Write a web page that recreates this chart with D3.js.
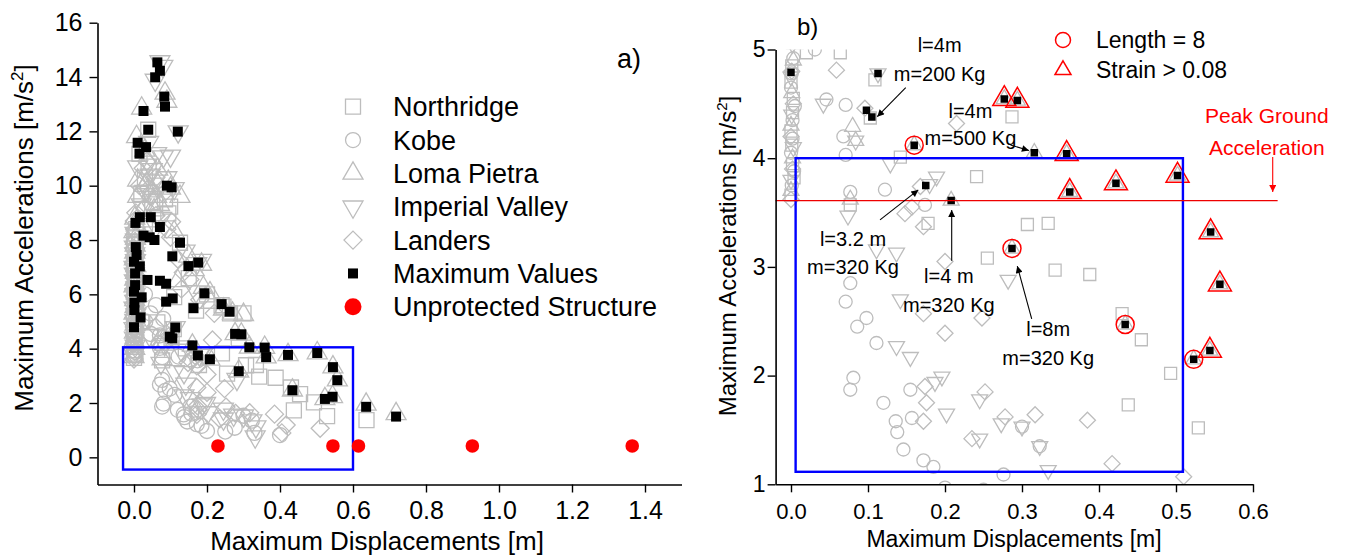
<!DOCTYPE html>
<html>
<head>
<meta charset="utf-8">
<script src="https://cdn.jsdelivr.net/npm/d3@7"></script>
<style>
  body { margin: 0; background: #fff; }
  svg { font-family: "Liberation Sans", Arial, sans-serif; }
</style>
</head>
<body>
<script>
// ---- data (x = max displacement [m], y = max acceleration [m/s2]) ----
const northridge = [
  [0.02,4.97],[0.064,4.97],[0.109,4.72],[0.103,4.37],[0.142,4.01],[0.241,3.83],[0.287,4.38],
  [0.178,3.40],[0.077,3.57],[0.307,3.39],[0.334,3.40],[0.255,3.08],[0.343,2.97],[0.388,2.93],
  [0.43,2.57],[0.455,2.33],[0.493,2.02],[0.438,1.73],[0.529,1.52],
  [0.0,3.66],[0.002,3.95],[0.0,4.25],[0.003,4.55],[0.001,4.85],[0.0,5.2],[0.004,5.6],[0.001,6.1],
  [0.003,6.6],[0.0,7.1],[0.005,7.6],[0.002,8.1],[0.004,3.82],[0.001,4.12],[0.002,4.42],[0.0,4.7],
  [0.006,5.4],[0.002,5.85],[0.005,6.35],[0.001,6.85],[0.004,7.35],[0.0,7.85],[0.006,8.4],
  [0.637,1.37],[0.039,12.06],[0.126,7.9],[0.094,8.98],[0.015,11.17],[0.099,9.23],[0.24,5.6],
  [0.263,5.3],[0.2,6.0],[0.15,6.6],[0.05,9.4],[0.03,10.3],[0.245,5.55],[0.11,5.9],
  [0.02,9.7],[0.06,10.0],[0.04,10.7],[0.085,9.5],[0.03,8.6],[0.17,5.4],[0.3,5.3]
];
const kobe = [
  [0.031,5.0],[0.046,4.54],[0.071,4.49],[0.068,4.2],[0.071,4.03],[0.122,3.71],[0.077,3.69],
  [0.174,3.57],[0.077,2.85],[0.071,2.68],[0.098,2.53],[0.086,2.45],[0.111,2.3],[0.081,1.98],
  [0.077,1.87],[0.155,1.87],[0.12,1.75],[0.157,1.61],[0.136,1.58],[0.138,1.48],[0.3,1.53],
  [0.146,1.32],[0.323,1.35],[0.172,1.22],[0.185,1.16],[0.276,1.09],
  [0.001,3.75],[0.0,4.05],[0.002,4.35],[0.0,4.65],[0.003,4.92],[0.001,5.4],[0.0,5.9],[0.002,6.4],[0.0,6.9],
  [0.004,3.88],[0.002,4.18],[0.005,4.48],[0.001,4.78],[0.004,5.65],[0.002,6.15],[0.005,6.65],
  [0.4,0.82],[0.25,0.95],[0.33,0.9],[0.2,0.97],[0.045,5.3],[0.08,5.1],[0.06,5.6],[0.03,6.0]
];
const lomaPietra = [
  [0.277,4.545],[0.294,4.53],[0.358,4.04],[0.362,3.69],[0.422,3.77],[0.502,3.84],[0.545,3.32],
  [0.557,2.84],[0.544,2.23],[0.316,4.05],[0.208,3.61],[0.08,4.29],[0.084,4.16],[0.077,3.62],
  [0.287,3.17],[0.434,2.47],[0.523,2.15],[0.16,4.12],
  [0.0,3.7],[0.002,4.0],[0.0,4.3],[0.001,4.6],[0.003,4.9],[0.0,5.3],[0.002,5.8],[0.0,6.3],
  [0.004,6.8],[0.001,7.3],[0.003,7.8],[0.0,8.3],[0.002,8.8],[0.005,5.05],[0.003,5.55],
  [0.006,6.05],[0.002,6.55],[0.005,7.05],[0.002,7.55],[0.004,8.05],[0.006,8.55],
  [0.636,1.95],[0.718,1.6],[0.085,13.4],[0.09,13.1],[0.021,12.85],[0.007,11.8],[0.094,10.15],
  [0.062,9.6],[0.126,9.6],[0.19,6.25],[0.208,6.05],[0.15,7.4],[0.185,7.1],[0.03,10.0],[0.01,9.6],
  [0.055,9.1],[0.11,8.3],[0.245,5.45],[0.165,6.9],[0.01,10.2],[0.035,10.1],[0.05,9.8],
  [0.02,9.0],[0.04,8.7],[0.07,9.3],[0.1,9.9],[0.065,10.6],[0.03,11.3],[0.21,5.7],[0.12,6.5],
  [0.3,5.25],[0.27,5.3]
];
const imperialValley = [
  [0.042,4.5],[0.113,4.78],[0.129,3.95],[0.189,3.83],[0.074,3.47],[0.111,3.16],[0.137,3.13],
  [0.282,2.88],[0.142,2.7],[0.137,2.27],[0.155,2.17],[0.196,1.99],[0.187,1.94],[0.245,1.78],
  [0.202,1.65],[0.273,1.56],[0.245,1.42],[0.323,1.35],[0.334,1.13],[0.3,1.53],[0.084,4.16],[0.18,3.76],
  [0.0,3.8],[0.003,4.1],[0.001,4.4],[0.0,4.75],[0.002,5.05],[0.0,5.5],[0.003,6.0],[0.001,6.5],
  [0.0,7.0],[0.002,7.5],[0.004,8.0],[0.005,5.25],[0.002,5.75],[0.005,6.25],[0.001,6.75],
  [0.004,7.25],[0.001,7.75],[0.003,8.25],
  [0.071,14.57],[0.079,14.4],[0.058,13.89],[0.121,11.99],[0.062,11.19],[0.08,11.07],[0.11,9.9],
  [0.172,7.14],[0.185,7.26],[0.045,10.4],[0.02,9.3],[0.332,0.76],[0.14,7.6],[0.06,8.5],
  [0.03,9.8],[0.05,10.6],[0.09,10.3],[0.01,10.7],[0.1,11.1],[0.04,11.6],[0.075,8.8],[0.17,6.1]
];
const landers = [
  [0.059,4.81],[0.096,4.46],[0.215,4.32],[0.168,3.74],[0.157,3.55],[0.148,3.49],[0.172,3.37],
  [0.2,3.05],[0.172,2.57],[0.248,2.53],[0.2,2.39],[0.174,1.9],[0.252,1.85],[0.176,1.75],
  [0.172,1.58],[0.278,1.62],[0.317,1.64],[0.235,1.42],[0.385,1.59],[0.417,1.19],[0.51,1.07],
  [0.0,3.62],[0.002,3.9],[0.0,4.2],[0.003,4.5],[0.001,4.8],[0.0,5.15],[0.002,5.7],[0.0,6.2],
  [0.003,6.7],[0.001,7.2],[0.0,7.7],[0.002,8.4],[0.004,5.45],[0.001,5.95],[0.004,6.45],
  [0.002,6.95],[0.005,7.45],[0.003,7.95],[0.001,8.7],
  [0.025,10.64],[0.103,8.67],[0.09,8.4],[0.135,6.8],[0.153,6.55],[0.405,0.9],[0.04,9.9],
  [0.06,10.3],[0.12,7.3],[0.015,10.0],[0.045,9.6],[0.03,9.2],[0.06,8.9],[0.08,9.7],[0.005,9.0],
  [0.035,10.9],[0.1,8.1],[0.22,5.3],[0.18,5.8],[0.13,6.2]
];
const maxValues = [
  [0.064,14.54],[0.071,14.23],[0.058,13.99],[0.083,13.28],[0.085,12.91],[0.026,12.75],[0.039,12.06],
  [0.12,11.99],[0.01,11.58],[0.033,11.42],[0.015,11.18],[0.09,10.0],[0.103,9.94],[0.016,8.84],
  [0.046,8.84],[0.004,8.63],[0.071,8.48],[0.026,8.16],[0.043,8.1],[0.056,8.0],[0.126,7.9],
  [0.005,7.74],[0.007,7.45],[0.105,7.4],[0.0,7.2],[0.016,7.03],[0.149,7.04],[0.176,7.17],
  [0.003,6.77],[0.037,6.53],[0.071,6.5],[0.088,6.39],[0.003,6.34],[0.0,6.1],[0.193,6.04],
  [0.021,5.89],[0.106,5.85],[0.088,5.73],[0.001,5.69],[0.24,5.64],[0.163,5.49],[0.262,5.36],
  [0.001,5.42],[0.018,5.15],[0.0,4.79],[0.113,4.78],[0.098,4.44],[0.105,4.38],[0.277,4.545],
  [0.294,4.53],[0.16,4.12],[0.316,4.05],[0.358,4.04],[0.175,3.75],[0.208,3.61],[0.362,3.69],
  [0.422,3.77],[0.502,3.84],[0.545,3.32],[0.557,2.84],[0.287,3.17],[0.434,2.47],[0.523,2.15],
  [0.544,2.23],[0.636,1.86],[0.718,1.5]
];
const unprotected = [[0.23,0.42],[0.545,0.42],[0.615,0.42],[0.927,0.42],[1.365,0.42]];
const length8 = [[0.16,4.12],[0.287,3.17],[0.434,2.47],[0.523,2.15]];
const strainOver = [[0.277,4.545],[0.294,4.53],[0.358,4.04],[0.362,3.69],[0.422,3.77],
  [0.502,3.84],[0.545,3.32],[0.557,2.84],[0.544,2.23]];
const peakGround = 3.61;

const seriesNames = ["Northridge","Kobe","Loma Pietra","Imperial Valley","Landers"];
const seriesShapes = ["square","circle","up","down","diamond"];
const seriesData = [northridge, kobe, lomaPietra, imperialValley, landers];

const ticksAx = [0,0.2,0.4,0.6,0.8,1.0,1.2,1.4];
const ticksAy = [0,2,4,6,8,10,12,14,16];
const ticksBx = [0,0.1,0.2,0.3,0.4,0.5,0.6];
const ticksBy = [1,2,3,4,5];

const grey = "#bdbdbd";

function shape(type, s) {
  const h = s / 2;
  if (type === "square") return `M${-h},${-h}h${s}v${s}h${-s}Z`;
  if (type === "circle") return `M${h},0A${h},${h} 0 1,1 ${-h},0A${h},${h} 0 1,1 ${h},0Z`;
  if (type === "diamond") return `M0,${-h}L${h},0L0,${h}L${-h},0Z`;
  const t = s * 0.866;
  if (type === "up") return `M0,${-t*2/3}L${h},${t/3}L${-h},${t/3}Z`;
  return `M0,${t*2/3}L${h},${-t/3}L${-h},${-t/3}Z`;
}

const svg = d3.select("body").append("svg").attr("width", 1347).attr("height", 558);

const defs = svg.append("defs");
["black", "red"].forEach(c => {
  defs.append("marker").attr("id", "arr-" + c)
    .attr("viewBox", "0 0 10 10").attr("refX", 10).attr("refY", 5)
    .attr("markerWidth", 9).attr("markerHeight", 7).attr("markerUnits", "userSpaceOnUse")
    .attr("orient", "auto")
    .append("path").attr("d", "M0,0L10,5L0,10Z").attr("fill", c);
});

function axes(g, x, y, xt, yt, xMinor, yMinor, fs, xPad, yPad, fmtX, fmtY) {
  const ax = g.append("g").attr("transform", `translate(0,${y.range()[0]})`);
  ax.call(d3.axisBottom(x).tickValues(xMinor).tickSize(4).tickSizeOuter(0).tickFormat(""));
  ax.call(d3.axisBottom(x).tickValues(xt).tickSize(8).tickSizeOuter(0).tickPadding(xPad).tickFormat(fmtX));
  const ay = g.append("g").attr("transform", `translate(${x.range()[0]},0)`);
  ay.call(d3.axisLeft(y).tickValues(yMinor).tickSize(4).tickSizeOuter(0).tickFormat(""));
  ay.call(d3.axisLeft(y).tickValues(yt).tickSize(8).tickSizeOuter(0).tickPadding(yPad).tickFormat(fmtY));
  g.selectAll(".domain").attr("stroke", "#000").attr("stroke-width", 1.6);
  g.selectAll(".tick line").attr("stroke", "#000").attr("stroke-width", 1.4);
  g.selectAll(".tick text").attr("font-size", fs).attr("fill", "#000")
    .attr("font-family", "Liberation Sans, Arial, sans-serif");
}

function greyMarks(g, x, y, sizes) {
  seriesData.forEach((data, i) => {
    g.append("g").selectAll("path").data(data).join("path")
      .attr("d", shape(seriesShapes[i], sizes[i]))
      .attr("transform", d => `translate(${x(d[0])},${y(d[1])})`)
      .attr("fill", "none").attr("stroke", grey).attr("stroke-width", 1.3);
  });
}

// ================= panel a =================
const xA = d3.scaleLinear().domain([-0.1, 1.5]).range([97.5, 681.5]);
const yA = d3.scaleLinear().domain([-1, 16]).range([484.5, 22.7]);
const gA = svg.append("g");
const sizesA = [15, 15, 20, 20, 18];

greyMarks(gA, xA, yA, sizesA);

gA.append("rect")
  .attr("x", xA(-0.03)).attr("y", yA(4.05))
  .attr("width", xA(0.6) - xA(-0.03)).attr("height", yA(-0.45) - yA(4.05))
  .attr("fill", "none").attr("stroke", "#0000ff").attr("stroke-width", 2.4);

gA.append("g").selectAll("path").data(maxValues).join("path")
  .attr("d", shape("square", 10))
  .attr("transform", d => `translate(${xA(d[0])},${yA(d[1])})`)
  .attr("fill", "#000");

gA.append("g").selectAll("circle").data(unprotected).join("circle")
  .attr("cx", d => xA(d[0])).attr("cy", d => yA(d[1])).attr("r", 6.8)
  .attr("fill", "#ff0000");

axes(gA, xA, yA, ticksAx, ticksAy,
  d3.range(-0.1, 1.55, 0.1).map(v => +v.toFixed(2)), d3.range(-1, 16, 1),
  25, 9, 7, d3.format(".1f"), d3.format("d"));

gA.append("text").attr("x", 377).attr("y", 550).attr("text-anchor", "middle")
  .attr("font-size", 26).text("Maximum Displacements [m]");
const tA = gA.append("text").attr("transform", "translate(33,238) rotate(-90)")
  .attr("text-anchor", "middle").attr("font-size", 26);
tA.append("tspan").text("Maximum Accelerations [m/s");
tA.append("tspan").attr("dy", -10).attr("font-size", 17).text("2");
tA.append("tspan").attr("dy", 10).text("]");

gA.append("text").attr("x", 617).attr("y", 68).attr("font-size", 27).text("a)");

// legend a
const legA = gA.append("g");
const legItems = seriesNames.map((n, i) => ({ name: n, shape: seriesShapes[i], size: sizesA[i], kind: "grey" }))
  .concat([{ name: "Maximum Values", kind: "max" }, { name: "Unprotected Structure", kind: "red" }]);
legItems.forEach((it, i) => {
  const cy = 106.7 + i * 33.35;
  if (it.kind === "grey") {
    legA.append("path").attr("d", shape(it.shape, it.size)).attr("transform", `translate(353,${cy})`)
      .attr("fill", "none").attr("stroke", grey).attr("stroke-width", 1.3);
  } else if (it.kind === "max") {
    legA.append("path").attr("d", shape("square", 10)).attr("transform", `translate(353,${cy})`).attr("fill", "#000");
  } else {
    legA.append("circle").attr("cx", 353).attr("cy", cy).attr("r", 8.5).attr("fill", "#ff0000");
  }
  legA.append("text").attr("x", 393).attr("y", cy).attr("dy", "0.35em")
    .attr("font-size", 27).text(it.name);
});

// ================= panel b =================
const xB = d3.scaleLinear().domain([-0.02, 0.6]).range([775.6, 1253]);
const yB = d3.scaleLinear().domain([1, 5]).range([484.3, 49.5]);
const gB = svg.append("g");
const sizesB = [12, 13, 16, 16, 16];

defs.append("clipPath").attr("id", "clipB").append("rect")
  .attr("x", xB.range()[0]).attr("y", yB.range()[1])
  .attr("width", xB.range()[1] - xB.range()[0]).attr("height", yB.range()[0] - yB.range()[1]);
const plotB = gB.append("g").attr("clip-path", "url(#clipB)");

greyMarks(plotB, xB, yB, sizesB);

plotB.append("g").selectAll("path").data(strainOver).join("path")
  .attr("d", shape("up", 23))
  .attr("transform", d => `translate(${xB(d[0])},${yB(d[1])})`)
  .attr("fill", "none").attr("stroke", "#ff0000").attr("stroke-width", 1.5);
plotB.append("g").selectAll("circle").data(length8).join("circle")
  .attr("cx", d => xB(d[0])).attr("cy", d => yB(d[1])).attr("r", 9)
  .attr("fill", "none").attr("stroke", "#ff0000").attr("stroke-width", 1.5);

plotB.append("g").selectAll("path.mx").data(maxValues).join("path")
  .attr("d", shape("square", 7.5))
  .attr("transform", d => `translate(${xB(d[0])},${yB(d[1])})`)
  .attr("fill", "#000");

gB.append("rect")
  .attr("x", xB(0.006)).attr("y", yB(4.0))
  .attr("width", xB(0.509) - xB(0.006)).attr("height", yB(1.115) - yB(4.0))
  .attr("fill", "none").attr("stroke", "#0000ff").attr("stroke-width", 2.4);

gB.append("line")
  .attr("x1", xB(-0.02)).attr("x2", xB(0.632)).attr("y1", yB(peakGround)).attr("y2", yB(peakGround))
  .attr("stroke", "#ee0000").attr("stroke-width", 1.2);

axes(gB, xB, yB, ticksBx, ticksBy,
  [0.05, 0.15, 0.25, 0.35, 0.45, 0.55], [1.5, 2.5, 3.5, 4.5],
  22, 11, 2, d3.format(".1f"), d3.format("d"));
gB.selectAll("g.tick text").filter(function() { return this.getAttribute("x") !== null && +this.getAttribute("x") < 0; })
  .attr("font-size", 23);

gB.append("text").attr("x", 1014).attr("y", 547).attr("text-anchor", "middle")
  .attr("font-size", 23).text("Maximum Displacements [m]");
const tB = gB.append("text").attr("transform", "translate(736,256) rotate(-90)")
  .attr("text-anchor", "middle").attr("font-size", 24);
tB.append("tspan").text("Maximum Accelerations [m/s");
tB.append("tspan").attr("dy", -9).attr("font-size", 15).text("2");
tB.append("tspan").attr("dy", 9).text("]");

gB.append("text").attr("x", 797).attr("y", 35).attr("font-size", 24).text("b)");

// legend b
gB.append("circle").attr("cx", 1063).attr("cy", 40).attr("r", 7.5)
  .attr("fill", "none").attr("stroke", "#ff0000").attr("stroke-width", 1.5);
gB.append("path").attr("d", shape("up", 16)).attr("transform", "translate(1063,70)")
  .attr("fill", "none").attr("stroke", "#ff0000").attr("stroke-width", 1.5);
gB.append("text").attr("x", 1096).attr("y", 40).attr("dy", "0.35em").attr("font-size", 23).text("Length = 8");
gB.append("text").attr("x", 1096).attr("y", 70).attr("dy", "0.35em").attr("font-size", 23).text("Strain > 0.08");

// annotations (positions in data units of panel b)
const notes = [
  { x: 0.193, y: 4.98, lines: ["l=4m", "m=200 Kg"], gap: 29 },
  { x: 0.233, y: 4.37, lines: ["l=4m", "m=500 Kg"], gap: 27 },
  { x: 0.0805, y: 3.195, lines: ["l=3.2 m", "m=320 Kg"], gap: 28.5 },
  { x: 0.205, y: 2.855, lines: ["l=4 m", "m=320 Kg"], gap: 29 },
  { x: 0.334, y: 2.367, lines: ["l=8m", "m=320 Kg"], gap: 29.5 }
];
notes.forEach(n => {
  n.lines.forEach((t, i) => {
    gB.append("text").attr("x", xB(n.x)).attr("y", yB(n.y) + i * n.gap)
      .attr("text-anchor", "middle").attr("font-size", 20).text(t);
  });
});
const arrows = [
  [0.149, 4.649, 0.112, 4.382],
  [0.285, 4.121, 0.309, 4.071],
  [0.1156, 3.432, 0.1653, 3.708],
  [0.2087, 3.057, 0.2087, 3.523],
  [0.3126, 2.521, 0.2939, 3.008]
];
gB.append("g").selectAll("line").data(arrows).join("line")
  .attr("x1", d => xB(d[0])).attr("y1", d => yB(d[1]))
  .attr("x2", d => xB(d[2])).attr("y2", d => yB(d[3]))
  .attr("stroke", "#000").attr("stroke-width", 1.1).attr("marker-end", "url(#arr-black)");

gB.append("text").attr("x", xB(0.618)).attr("y", yB(4.324)).attr("text-anchor", "middle")
  .attr("font-size", 21).attr("fill", "#ff0000").text("Peak Ground");
gB.append("text").attr("x", xB(0.618)).attr("y", yB(4.03)).attr("text-anchor", "middle")
  .attr("font-size", 21).attr("fill", "#ff0000").text("Acceleration");
gB.append("line").attr("x1", xB(0.6256)).attr("x2", xB(0.6256)).attr("y1", yB(4.011)).attr("y2", yB(3.689))
  .attr("stroke", "#ff0000").attr("stroke-width", 1.1).attr("marker-end", "url(#arr-red)");
</script>
</body>
</html>
